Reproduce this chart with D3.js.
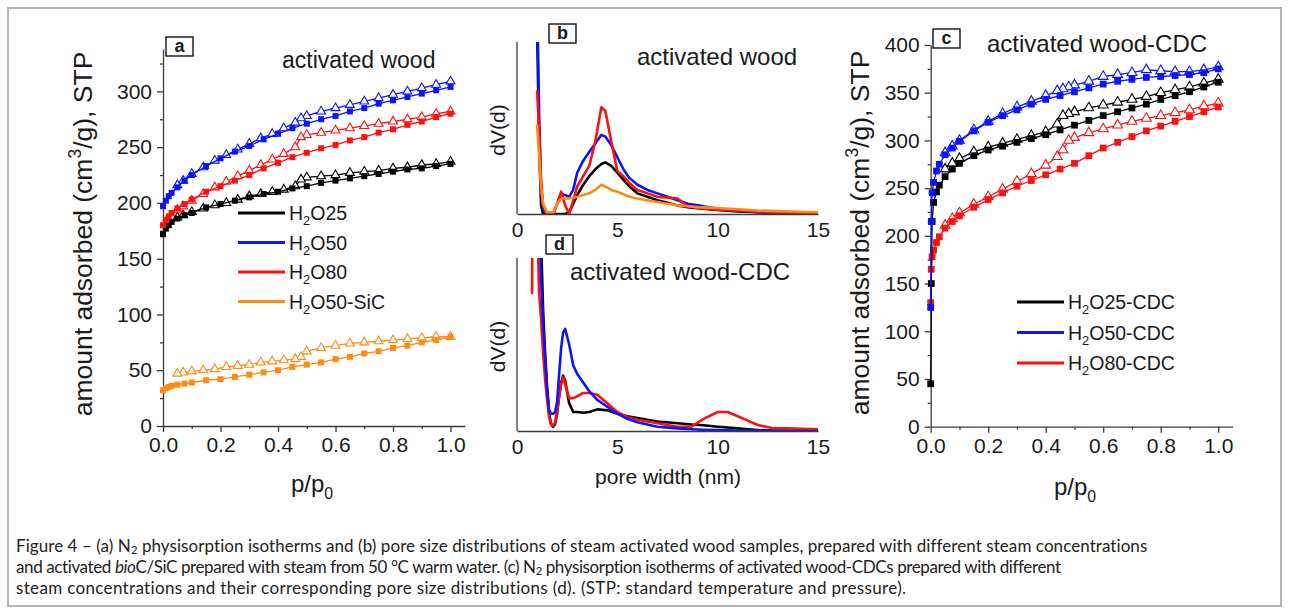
<!DOCTYPE html>
<html>
<head>
<meta charset="utf-8">
<script src="https://cdn.jsdelivr.net/npm/d3@7"></script>
<style>
body { margin: 0; background: #fff; }
svg text { font-family: 'Liberation Sans', Arial, sans-serif; fill: #1a1a1a; }
svg text.caption { font-family: Lato, 'Open Sans', sans-serif; fill: #222; }
</style>
</head>
<body>
<svg id="fig" width="1289" height="613"></svg>
<script>
// ---- panel a: isotherms of activated wood (p/p0 vs cm3/g) ----
const adsP = [0, 0.01, 0.02, 0.03, 0.05, 0.075, 0.1, 0.15, 0.2, 0.25, 0.3, 0.35, 0.4, 0.45, 0.5, 0.55, 0.6, 0.65, 0.7, 0.75, 0.8, 0.85, 0.9, 0.95, 1.0]
const desP = [1.0, 0.95, 0.9, 0.85, 0.8, 0.75, 0.7, 0.65, 0.6, 0.55, 0.5, 0.48, 0.46, 0.42, 0.38, 0.34, 0.3, 0.26, 0.22, 0.18, 0.14, 0.1, 0.07, 0.05]

const h2o25Ads = [172, 177, 180, 183, 186, 189, 191, 196, 199, 202, 205, 208, 210, 213, 215, 218, 220, 222, 224, 226, 228, 230, 231, 233, 235]
const h2o50Ads = [197, 202, 206, 209, 214, 220, 225, 233, 240, 246, 251, 257, 262, 267, 271, 275, 278, 282, 285, 289, 292, 295, 298, 301, 304]
const h2o80Ads = [180, 185, 188, 191, 195, 199, 203, 210, 215, 220, 225, 231, 236, 241, 245, 249, 252, 256, 259, 263, 266, 270, 273, 277, 280]
const sicAds = [32, 34, 35, 36, 37, 38, 39, 41, 42, 44, 46, 48, 50, 53, 55, 57, 60, 62, 65, 67, 70, 72, 75, 77, 80]

const h2o25Des = [237, 235, 234, 232, 231, 229, 228, 227, 225, 224, 223, 221, 215, 212, 210, 208, 206, 203, 200, 198, 195, 192, 189, 187]
const h2o50Des = [309, 306, 303, 300, 297, 294, 291, 288, 285, 282, 278, 276, 272, 267, 262, 258, 253, 248, 243, 238, 232, 226, 220, 216]
const h2o80Des = [282, 280, 277, 275, 273, 271, 269, 267, 265, 263, 261, 259, 250, 244, 239, 234, 229, 224, 219, 214, 208, 202, 197, 194]
const sicDes = [80, 80, 79, 78, 77, 76, 75, 74, 72, 70, 67, 62, 60, 59, 58, 57, 55, 54, 53, 51, 50, 49, 48, 47]

// ---- panel c: isotherms of activated wood-CDC ----
const cAdsP = [0, 0.002, 0.005, 0.01, 0.02, 0.03, 0.05, 0.075, 0.1, 0.15, 0.2, 0.25, 0.3, 0.35, 0.4, 0.45, 0.5, 0.55, 0.6, 0.65, 0.7, 0.75, 0.8, 0.85, 0.9, 0.95, 1.0]
const cDesP = [1.0, 0.95, 0.9, 0.85, 0.8, 0.75, 0.7, 0.65, 0.6, 0.55, 0.5, 0.48, 0.46, 0.44, 0.4, 0.35, 0.3, 0.25, 0.2, 0.15, 0.1, 0.075, 0.05]

const cdc25Ads = [45, 150, 215, 235, 246, 253, 262, 270, 276, 284, 290, 294, 298, 302, 306, 311, 316, 321, 326, 330, 334, 338, 343, 347, 351, 356, 361]
const cdc50Ads = [125, 215, 245, 256, 268, 275, 285, 292, 299, 310, 319, 326, 332, 338, 343, 347, 351, 355, 359, 362, 364, 366, 367, 368, 369, 371, 375]
const cdc80Ads = [130, 165, 178, 185, 193, 199, 208, 215, 221, 230, 238, 245, 252, 258, 264, 270, 276, 284, 292, 298, 304, 310, 315, 320, 325, 330, 335]

const cdc25Des = [364, 360, 356, 353, 350, 346, 343, 340, 337, 334, 330, 328, 326, 317, 309, 305, 301, 297, 293, 288, 281, 276, 270]
const cdc50Des = [377, 374, 372, 372, 373, 374, 371, 369, 367, 362, 358, 356, 354, 352, 347, 341, 335, 328, 320, 311, 300, 294, 287]
const cdc80Des = [339, 336, 332, 329, 326, 323, 320, 316, 312, 308, 303, 300, 290, 283, 274, 265, 257, 249, 241, 233, 224, 218, 211]

// ---- panel b: pore size distribution, activated wood (arb. units) ----
const widthB = [1.0, 1.1, 1.2, 1.3, 1.5, 1.8, 2.0, 2.2, 2.4, 2.6, 2.8, 3.0, 3.3, 3.6, 3.9, 4.2, 4.4, 4.7, 5.0, 5.3, 5.6, 6.0, 6.5, 7.0, 7.5, 8.0, 8.5, 9.0, 10, 11, 12, 13, 14, 15]
const psdB25 = [110, 40, 5, 0, 0, 0, 0, 0, 0, 1, 6, 11, 17, 22, 26, 29, 30, 28, 24, 20, 16, 12, 10, 8, 6.5, 5, 4, 3.3, 2.3, 1.5, 1, 0.6, 0.3, 0.2]
const psdB50 = [130, 60, 15, 3, 0, 0, 6, 12, 11, 10, 14, 24, 31, 36, 41, 46, 45, 40, 33, 26, 21, 17, 14, 12, 10, 8, 6, 5, 3, 2, 1, 0.5, 0.3, 0]
const psdB80 = [72, 50, 20, 5, 0, 0, 6, 13, 5, 0, 8, 16, 22, 28, 42, 62, 60, 42, 25, 22, 18, 14, 12, 10, 9.5, 9, 4.5, 3.5, 2.5, 2, 1.3, 1, 0.8, 0.6]
const psdBSic = [52, 35, 15, 6, 1, 1, 6, 9, 9, 9, 9.5, 10, 11, 12, 14, 17, 16, 14, 13, 11.5, 10, 9, 8, 7, 6, 5, 4.5, 4, 3.5, 2.8, 2, 1.7, 1.3, 1]

// ---- panel d: pore size distribution, activated wood-CDC ----
const widthD = [0.75, 0.78, 0.95, 1.1, 1.2, 1.3, 1.4, 1.5, 1.6, 1.7, 1.8, 1.9, 2.0, 2.1, 2.2, 2.3, 2.4, 2.6, 2.8, 3.0, 3.3, 3.6, 4.0, 4.5, 5.0, 5.5, 6.0, 7.0, 8.0, 8.7, 9.3, 10, 10.5, 11, 11.5, 12, 12.7, 13.5, 15]
const psdD25 = [null, null, null, 150, 110, 70, 45, 25, 10, 4, 2.5, 4, 10, 20, 28, 32, 29, 16, 11, 11, 10.5, 11, 12.5, 12, 10, 8.5, 7.5, 5.5, 4.5, 3.8, 3.3, 2.5, 2, 1.5, 1, 0.5, 0.2, 0.1, 0]
const psdD50 = [null, null, null, 130, 88, 62, 42, 24, 12, 10, 10, 11, 17, 33, 48, 57, 59, 50, 38, 33, 28, 23, 18, 14, 10, 7, 5, 2.5, 1.5, 1, 0.7, 0.5, 0.4, 0.3, 0.2, 0.2, 0.1, 0, 0]
const psdD80 = [79, 150, 150, 80, 65, 45, 30, 18, 8, 4, 3, 5, 12, 20, 27, 31, 27, 19, 19, 20, 22, 22, 21, 16, 11, 8, 6.5, 4.5, 2.5, 2.5, 7, 11, 11, 8.5, 6, 3.5, 1.7, 1.5, 1]

const pTicks = [0, 0.2, 0.4, 0.6, 0.8, 1.0]
const pMinor = [0.1, 0.3, 0.5, 0.7, 0.9]
const aTicks = [0, 50, 100, 150, 200, 250, 300]
const aMinor = [25, 75, 125, 175, 225, 275, 325]
const cTicks = [0, 50, 100, 150, 200, 250, 300, 350, 400]
const cMinor = [25, 75, 125, 175, 225, 275, 325, 375]
const wTicks = [0, 5, 10, 15]

const legendA = ['25', '50', '80', '50-SiC']
const legendC = ['25-CDC', '50-CDC', '80-CDC']

const BLACK = '#000000', BLUE = '#0a14ff', RED = '#ff1010', ORANGE = '#ff8a14'
const AXIS = '#3c3c3c'
const TICK_FS = 21

const svg = d3.select('#fig')

// outer frame
svg.append('rect')
    .attr('x', 8).attr('y', 8)
    .attr('width', 1273).attr('height', 598)
    .attr('fill', 'none')
    .attr('stroke', '#b4b4b4')
    .attr('stroke-width', 2)

// text with sub/superscript and italic pieces
function rich(sel, parts, fs, subShift = 0.28) {
    let cur = 0
    parts.forEach(([s, k]) => {
        const off = k === 'sub' ? subShift * fs : k === 'sup' ? -0.42 * fs : 0
        const t = sel.append('tspan').text(s).attr('dy', off - cur)
        if (k === 'sub' || k === 'sup') t.attr('font-size', fs * 0.66)
        if (k === 'it') t.attr('font-style', 'italic')
        cur = off
    })
    return sel
}

function styleAxis(g) {
    g.selectAll('path, line').attr('stroke', AXIS).attr('stroke-width', 1.3)
    g.selectAll('text').attr('fill', '#1a1a1a').attr('font-family', 'Liberation Sans, Arial, sans-serif')
}

function isoAxes(x, y, yMajor, yMinor) {
    const y0 = y(0), x0 = x(0)
    svg.append('g')
        .attr('transform', `translate(0,${y0})`)
        .call(d3.axisBottom(x).tickValues(pTicks).tickSize(6).tickSizeOuter(0).tickPadding(5).tickFormat(d3.format('.1f')))
        .call(g => g.selectAll('text').attr('font-size', TICK_FS))
        .call(styleAxis)
    svg.append('g')
        .attr('transform', `translate(0,${y0})`)
        .call(d3.axisBottom(x).tickValues(pMinor).tickSize(3).tickFormat(''))
        .call(g => g.select('.domain').remove())
        .call(styleAxis)
    svg.append('g')
        .attr('transform', `translate(${x0},0)`)
        .call(d3.axisLeft(y).tickValues(yMajor).tickSize(6).tickSizeOuter(0).tickPadding(5))
        .call(g => g.selectAll('text').attr('font-size', TICK_FS))
        .call(styleAxis)
    svg.append('g')
        .attr('transform', `translate(${x0},0)`)
        .call(d3.axisLeft(y).tickValues(yMinor).tickSize(3).tickFormat(''))
        .call(g => g.select('.domain').remove())
        .call(styleAxis)
}

function branch(x, y, p, v, color, kind, big) {
    const pts = p.map((pp, i) => [pp, v[i]])
    svg.append('path')
        .attr('d', d3.line().x(d => x(d[0])).y(d => y(d[1]))(pts))
        .attr('fill', 'none')
        .attr('stroke', color)
        .attr('stroke-width', 1.3)
    const sym = kind === 'ads'
        ? d3.symbol(d3.symbolSquare, big ? 46 : 36)
        : d3.symbol(d3.symbolTriangle, big ? 42 : 34)
    svg.append('g')
        .selectAll('path')
        .data(pts)
        .join('path')
        .attr('transform', d => `translate(${x(d[0])},${y(d[1])})`)
        .attr('d', sym)
        .attr('fill', kind === 'ads' ? color : 'white')
        .attr('stroke', color)
        .attr('stroke-width', kind === 'ads' ? 0 : 1.1)
}

function panelBox(x, y, letter) {
    svg.append('rect')
        .attr('x', x).attr('y', y)
        .attr('width', 27).attr('height', 19)
        .attr('fill', 'white')
        .attr('stroke', '#111')
        .attr('stroke-width', 1.4)
    svg.append('text')
        .attr('x', x + 13.5).attr('y', y + 15)
        .attr('text-anchor', 'middle')
        .attr('font-size', 18)
        .attr('font-weight', 'bold')
        .text(letter)
}

function title(x, y, s, fs) {
    svg.append('text').attr('x', x).attr('y', y).attr('font-size', fs).text(s)
}

function yTitle(cx, cy, parts, fs) {
    const t = svg.append('text')
        .attr('transform', `translate(${cx},${cy}) rotate(-90)`)
        .attr('text-anchor', 'middle')
        .attr('font-size', fs)
    rich(t, parts, fs)
}

function xTitleP(cx, cy) {
    const t = svg.append('text')
        .attr('x', cx).attr('y', cy)
        .attr('text-anchor', 'middle')
        .attr('font-size', 24)
    rich(t, [['p/p'], ['0', 'sub']], 24)
}

function legend(x0, y0, dy, names, colors) {
    names.forEach((n, i) => {
        const yy = y0 + i * dy
        svg.append('line')
            .attr('x1', x0).attr('x2', x0 + 47)
            .attr('y1', yy).attr('y2', yy)
            .attr('stroke', colors[i])
            .attr('stroke-width', 3)
        const t = svg.append('text').attr('x', x0 + 51).attr('y', yy + 7).attr('font-size', 19.5)
        rich(t, [['H'], ['2', 'sub'], ['O' + n]], 19.5)
    })
}

// ================= panel a =================
const xA = d3.scaleLinear().domain([0, 1.05]).range([163, 464.9])
const yA = d3.scaleLinear().domain([0, 338]).range([426, 49])
isoAxes(xA, yA, aTicks, aMinor)

const seriesA = [
    [h2o25Ads, h2o25Des, BLACK],
    [h2o50Ads, h2o50Des, BLUE],
    [h2o80Ads, h2o80Des, RED],
    [sicAds, sicDes, ORANGE],
]
seriesA.forEach(([ads, des, c]) => {
    branch(xA, yA, desP, des, c, 'des', false)
    branch(xA, yA, adsP, ads, c, 'ads', false)
})

panelBox(166, 37, 'a')
title(282, 68, 'activated wood', 23)
yTitle(92, 234, [['amount adsorbed (cm'], ['3', 'sup'], ['/g), STP']], 26.5)
xTitleP(312, 492)
legend(238, 213, 29.5, legendA, [BLACK, BLUE, RED, ORANGE])

// ================= panel c =================
const xC = d3.scaleLinear().domain([0, 1.05]).range([930.7, 1232.6])
const yC = d3.scaleLinear().domain([0, 400]).range([426.7, 45])
isoAxes(xC, yC, cTicks, cMinor)

const seriesC = [
    [cdc80Ads, cdc80Des, RED],
    [cdc25Ads, cdc25Des, BLACK],
    [cdc50Ads, cdc50Des, BLUE],
]
seriesC.forEach(([ads, des, c]) => {
    branch(xC, yC, cDesP, des, c, 'des', true)
    branch(xC, yC, cAdsP, ads, c, 'ads', true)
})

panelBox(933, 29, 'c')
title(987, 52, 'activated wood-CDC', 24)
yTitle(869, 233, [['amount adsorbed (cm'], ['3', 'sup'], ['/g), STP']], 26.5)
xTitleP(1075, 495)
legend(1017, 302, 30.5, legendC, [BLACK, BLUE, RED])

// ================= panels b and d =================
function psdPanel(top, bottom, widths, curves, id) {
    const x = d3.scaleLinear().domain([0, 15]).range([517, 818])
    const y = d3.scaleLinear().domain([0, 100]).range([bottom, top])

    svg.append('clipPath').attr('id', id)
        .append('rect')
        .attr('x', x(0)).attr('y', top)
        .attr('width', x(15) - x(0)).attr('height', bottom - top)

    const g = svg.append('g').attr('clip-path', `url(#${id})`)
    const line = d3.line()
        .defined(d => d[1] != null)
        .x(d => x(d[0]))
        .y(d => y(d[1]))
    curves.forEach(([vals, c]) => {
        g.append('path')
            .attr('d', line(widths.map((w, i) => [w, vals[i]])))
            .attr('fill', 'none')
            .attr('stroke', c)
            .attr('stroke-width', 2.6)
            .attr('stroke-linejoin', 'round')
    })

    svg.append('g')
        .attr('transform', `translate(0,${bottom})`)
        .call(d3.axisBottom(x).tickValues(wTicks).tickSize(0).tickSizeOuter(0).tickPadding(8))
        .call(g => g.selectAll('text').attr('font-size', TICK_FS))
        .call(styleAxis)
    svg.append('line')
        .attr('x1', x(0)).attr('x2', x(0))
        .attr('y1', top).attr('y2', bottom)
        .attr('stroke', AXIS)
        .attr('stroke-width', 1.3)
    yTitle(505, (top + bottom) / 2 + 2, [['dV(d)']], 21)
}

psdPanel(42, 214, widthB, [[psdB25, BLACK], [psdB50, BLUE], [psdB80, RED], [psdBSic, ORANGE]], 'clipB')
panelBox(549, 24, 'b')
title(637, 65, 'activated wood', 24)

psdPanel(258, 431, widthD, [[psdD25, BLACK], [psdD80, RED], [psdD50, BLUE]], 'clipD')
panelBox(546, 235, 'd')
title(570, 280, 'activated wood-CDC', 24)

svg.append('text')
    .attr('x', 668).attr('y', 484)
    .attr('text-anchor', 'middle')
    .attr('font-size', 21)
    .text('pore width (nm)')

// ================= caption =================
const captionLines = [
    [['Figure 4 – (a) N'], ['2', 'sub'], [' physisorption isotherms and (b) pore size distributions of steam activated wood samples, prepared with different steam concentrations']],
    [['and activated '], ['bio', 'it'], ['C/SiC prepared with steam from 50 °C warm water. (c) N'], ['2', 'sub'], [' physisorption isotherms of activated wood-CDCs prepared with different']],
    [['steam concentrations and their corresponding pore size distributions (d). (STP: standard temperature and pressure).']],
]
const captionEnds = [1148, 1061, 907]
captionLines.forEach((parts, i) => {
    const t = svg.append('text')
        .attr('class', 'caption')
        .attr('x', 16).attr('y', 552 + i * 21)
        .attr('font-size', 17)
    rich(t, parts, 17, 0.14)
    // nudge letter spacing so each line ends where the printed one does
    const n = parts.map(p => p[0]).join('').length
    const w = t.node().getComputedTextLength()
    t.attr('letter-spacing', ((captionEnds[i] - 16 - w) / n).toFixed(3))
})
</script>
</body>
</html>
